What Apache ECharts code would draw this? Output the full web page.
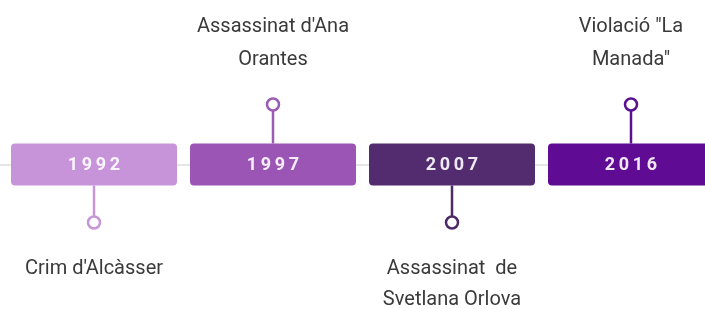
<!DOCTYPE html>
<html>
<head>
    <meta charset="utf-8">
    <title>Timeline</title>
    <script src="https://cdn.jsdelivr.net/npm/echarts@6/dist/echarts.min.js"></script>
    <style>
        html, body { margin: 0; padding: 0; background: #fff; }
    </style>
</head>
<body>
    <div id="main" style="width: 705px;height:309px;"></div>

<script>
// dades
var years = ['1992', '1997', '2007', '2016'];
var events = [
    "Crim d'Alcàsser",
    "Assassinat d'Ana\nOrantes",
    "Assassinat  de\nSvetlana Orlova",
    'Violació "La\nManada"'
];
var sides = [-1, 1, -1, 1];   // 1 = a dalt, -1 = a baix

// colors de cada caixa / connector
var boxColors = ['#c794da', '#9b55b5', '#522c6e', '#5f0b93'];
var pinColors = ['#c796d8', '#9b5cb6', '#4c2b67', '#5a1190'];

var myChart = echarts.init(document.getElementById('main'));

function spaced(s) {
    return s.split('').join('\u2009');
}

function renderItem(params, api) {
    var i = api.value(0);
    var c = api.coord([i, 0.5]);
    var side = sides[i];
    var x = c[0], y = c[1];
    var children = [];

    // connector + cercle
    var y0 = side > 0 ? y - 21 : y + 21;
    var yc = side > 0 ? y - 60 : y + 58;
    children.push({
        type: 'line',
        shape: { x1: x, y1: y0, x2: x, y2: yc + (side > 0 ? 6 : -6) },
        style: { stroke: pinColors[i], lineWidth: 2.5 }
    });
    children.push({
        type: 'circle',
        shape: { cx: x, cy: yc, r: 6 },
        style: { fill: '#fff', stroke: pinColors[i], lineWidth: 2.5 }
    });

    // caixa
    children.push({
        type: 'rect',
        shape: { x: x - 83, y: y - 21, width: 166, height: 42, r: 4 },
        style: { fill: boxColors[i] }
    });
    children.push({
        type: 'text',
        style: {
            x: x, y: y + 1,
            text: spaced(years[i]),
            align: 'center', verticalAlign: 'middle',
            font: 'bold 18px Roboto',
            fill: 'rgba(255,255,255,0.9)'
        }
    });

    // etiqueta
    children.push({
        type: 'text',
        style: {
            x: x, y: side > 0 ? y - 88 : y + 89,
            text: events[i],
            align: 'center',
            verticalAlign: side > 0 ? 'bottom' : 'top',
            lineHeight: side > 0 ? 33 : 31,
            font: '20px Roboto',
            fill: '#3a3a3a'
        }
    });

    return { type: 'group', children: children };
}

myChart.setOption({
    animation: false,
    grid: { left: 94, right: 74, top: 144, bottom: 124 },
    xAxis: { type: 'value', min: 0, max: 3, show: false },
    yAxis: { type: 'value', min: 0, max: 1, show: false },
    graphic: [{
        type: 'line',
        z: -1,
        shape: { x1: 0, y1: 165, x2: 705, y2: 165 },
        style: { stroke: '#e6e6e6', lineWidth: 2 }
    }],
    series: [{
        type: 'custom',
        clip: false,
        renderItem: renderItem,
        data: years.map(function (y, i) { return [i]; })
    }]
});
</script>

</body>
</html>
